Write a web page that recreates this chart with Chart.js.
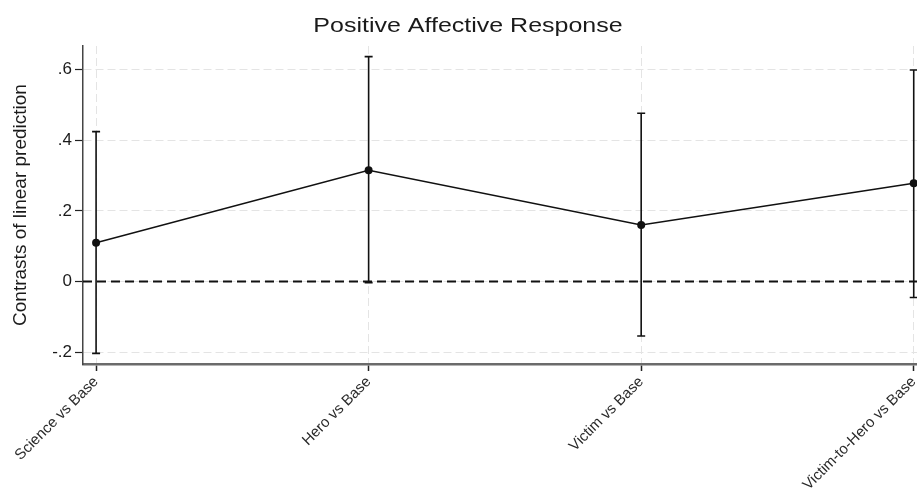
<!DOCTYPE html>
<html>
<head>
<meta charset="utf-8">
<script src="https://cdn.jsdelivr.net/npm/chart.js@4.4.1/dist/chart.umd.min.js"></script>
<style>
  html, body { margin: 0; padding: 0; background: #fff; }
  #wrap { width: 917px; height: 497px; }
</style>
</head>
<body>
<div id="wrap"><canvas id="c" width="917" height="497"></canvas></div>
<script>
// Contrasts of linear prediction with 95% confidence intervals
const categories = ['Science vs Base', 'Hero vs Base', 'Victim vs Base', 'Victim-to-Hero vs Base'];
const contrasts = [0.110, 0.315, 0.160, 0.278];
const ciLower = [-0.203, -0.003, -0.154, -0.045];
const ciUpper = [0.424, 0.636, 0.476, 0.598];
const yTicks = [-0.2, 0, 0.2, 0.4, 0.6];
const yRange = [-0.233, 0.666];
const xRange = [-0.048, 3.012];
const titleText = 'Positive Affective Response';
const yTitle = 'Contrasts of linear prediction';

const FONT = '"Liberation Sans", Arial, Helvetica, sans-serif';

// leading-decimal tick format: .6, -.2, 0
function fmtTick(v) {
  const r = Math.round(v * 10) / 10;
  if (r === 0) return '0';
  return (r < 0 ? '-' : '') + String(Math.abs(r)).replace(/^0/, '');
}

const errorBars = {
  id: 'errorBars',
  afterDatasetsDraw(chart) {
    const { ctx, scales: { x, y } } = chart;
    ctx.save();
    ctx.strokeStyle = '#111';
    ctx.lineWidth = 1.6;
    for (let i = 0; i < categories.length; i++) {
      const px = x.getPixelForValue(i);
      const top = y.getPixelForValue(ciUpper[i]);
      const bot = y.getPixelForValue(ciLower[i]);
      ctx.beginPath();
      ctx.moveTo(px, top); ctx.lineTo(px, bot);
      ctx.moveTo(px - 4, top); ctx.lineTo(px + 4, top);
      ctx.moveTo(px - 4, bot); ctx.lineTo(px + 4, bot);
      ctx.stroke();
    }
    ctx.restore();
  }
};

// wide-set title across the top
const plotTitle = {
  id: 'plotTitle',
  afterDraw(chart) {
    const { ctx } = chart;
    ctx.save();
    ctx.fillStyle = '#1a1a1a';
    ctx.font = '21px ' + FONT;
    ctx.textAlign = 'center';
    ctx.textBaseline = 'middle';
    ctx.translate(468, 26);
    ctx.scale(1.19, 1);
    ctx.fillText(titleText, 0, 0);
    ctx.restore();
  }
};

new Chart(document.getElementById('c'), {
  type: 'line',
  data: {
    datasets: [
      {
        label: 'contrast',
        data: contrasts.map((v, i) => ({ x: i, y: v })),
        borderColor: '#111',
        backgroundColor: '#111',
        borderWidth: 1.5,
        pointRadius: 4,
        pointBackgroundColor: '#111',
        pointBorderWidth: 0,
        tension: 0,
        clip: false,
        order: 1
      },
      {
        label: 'zero',
        data: [{ x: xRange[0], y: 0 }, { x: xRange[1], y: 0 }],
        borderColor: '#111',
        borderWidth: 2,
        borderDash: [9, 5],
        pointRadius: 0,
        order: 2
      }
    ]
  },
  options: {
    responsive: false,
    animation: false,
    devicePixelRatio: 1,
    layout: { autoPadding: false, padding: { top: 46, right: 0, bottom: 0, left: 0 } },
    plugins: {
      legend: { display: false },
      tooltip: { enabled: false },
      title: { display: false }
    },
    scales: {
      x: {
        type: 'linear',
        min: xRange[0],
        max: xRange[1],
        afterBuildTicks(scale) { scale.ticks = categories.map((_, i) => ({ value: i })); },
        afterFit(scale) { scale.height = 133; scale.paddingLeft = 0; scale.paddingRight = 0; },
        ticks: {
          autoSkip: false,
          minRotation: 45,
          maxRotation: 45,
          padding: 2,
          color: '#2a2a2a',
          font: { family: FONT, size: 15 },
          callback: (v) => categories[v] ?? ''
        },
        grid: {
          color: '#e4e4e4',
          lineWidth: 1,
          tickColor: '#222',
          tickLength: 7,
          tickWidth: 1.5,
          tickBorderDash: []
        },
        border: { display: true, color: '#6b6b6b', width: 2.5, dash: [8, 4] }
      },
      y: {
        type: 'linear',
        min: yRange[0],
        max: yRange[1],
        afterBuildTicks(scale) { scale.ticks = yTicks.map(v => ({ value: v })); },
        afterFit(scale) { scale.width = 83; scale.paddingTop = 0; scale.paddingBottom = 0; },
        ticks: {
          padding: 3,
          color: '#1a1a1a',
          font: { family: FONT, size: 17 },
          callback: (v) => fmtTick(v)
        },
        title: {
          display: true,
          text: yTitle,
          color: '#1a1a1a',
          font: { family: FONT, size: 19 },
          padding: { top: 9, bottom: 0 }
        },
        grid: {
          color: '#e4e4e4',
          lineWidth: 1,
          tickColor: '#222',
          tickLength: 8,
          tickWidth: 1.2,
          tickBorderDash: []
        },
        border: { display: true, color: '#444', width: 1.5, dash: [8, 4] }
      }
    }
  },
  plugins: [errorBars, plotTitle]
});
</script>
</body>
</html>
